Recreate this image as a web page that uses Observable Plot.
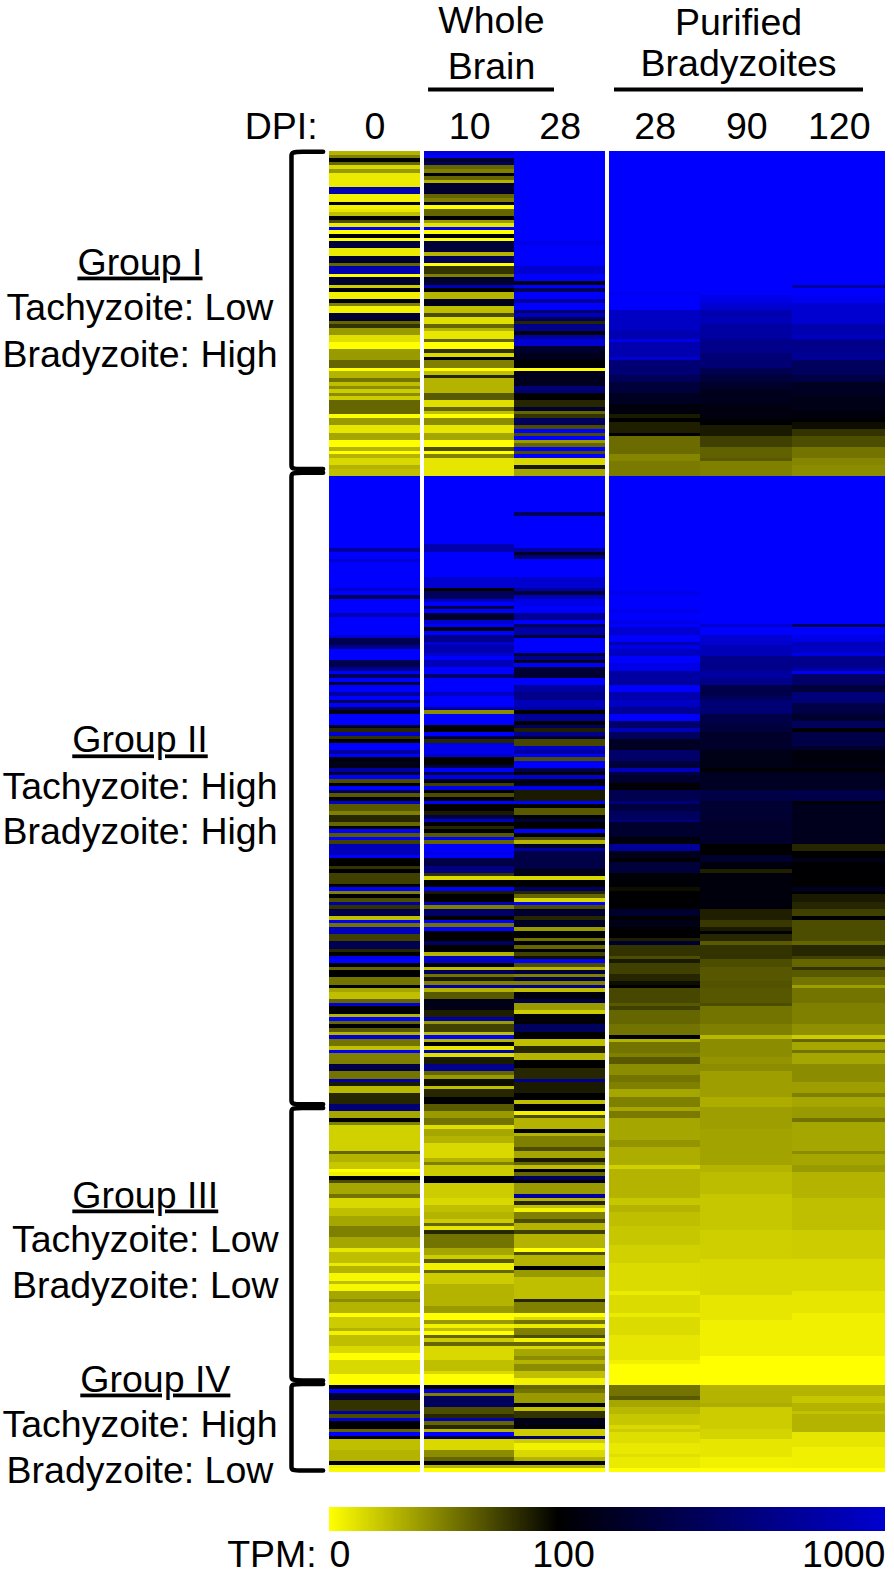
<!DOCTYPE html>
<html><head><meta charset="utf-8">
<script src="https://cdn.jsdelivr.net/npm/d3@7"></script>
<script src="https://cdn.jsdelivr.net/npm/@observablehq/plot@0.6"></script>
<style>
html,body{margin:0;padding:0;background:#fff}
svg{display:block}
.underlined text{text-decoration:underline}
</style></head><body><div id="chart"></div>
<script>
// Expression runs per condition: row where the run starts, TPM, row, TPM, ...
const culture0 = [
0,30,1,50,2,100,3,60,4,15,5,40,6,8,10,850,12,5,14,100,15,5,16,10,17,25,18,100,19,70,20,8,21,1200,22,0,23,100,24,0,25,350,27,8,29,300,31,60,32,850,34,0,35,300,37,20,38,100,39,5,41,100,42,50,43,5,45,300,47,60,48,80,49,40,51,12,53,0,55,40,58,60,60,0,61,30,63,55,64,25,65,45,66,20,67,45,68,20,69,60,73,0,74,40,76,10,78,35,80,0,82,30,83,0,84,30,85,15,87,30,88,25,
90,1200,110,800,111,1200,113,1000,114,1200,121,1000,122,1200,123,500,124,1200,128,900,129,1200,134,1000,135,450,137,700,138,1200,141,450,143,700,144,1200,145,500,146,1200,147,350,148,1200,150,800,151,1200,152,500,153,1200,154,500,155,200,156,1200,159,250,160,85,161,1000,162,80,163,100,164,1200,166,800,167,1200,168,150,169,200,171,800,172,300,173,1200,174,70,175,100,176,1200,
177,500,178,65,179,100,180,1000,181,65,183,50,184,85,186,60,187,100,188,1200,189,65,190,1200,191,75,192,900,195,1200,196,100,198,80,199,100,200,75,203,100,204,1200,205,50,206,100,207,70,208,800,209,80,210,400,212,25,213,1200,214,55,215,900,217,75,219,450,221,85,222,100,223,1100,224,1200,225,100,226,60,227,100,229,55,231,100,232,35,233,25,235,60,236,1000,237,100,239,30,240,1200,241,60,242,100,243,65,244,30,245,1000,246,55,248,25,249,1200,250,50,253,400,255,55,257,800,258,90,259,28,261,85,264,600,
265,600,266,35,268,100,269,50,270,18,277,60,278,30,280,22,282,0,283,5,284,100,285,70,286,35,289,55,290,15,293,25,295,35,298,50,301,35,304,10,305,25,308,8,309,30,311,3,313,25,314,3,316,35,318,45,319,30,322,0,323,20,326,30,327,5,328,25,331,15,333,0,335,15,339,0,
342,100,343,1200,344,320,346,80,349,800,350,70,351,1000,352,100,354,60,355,1200,356,100,357,25,360,30,363,100,364,5,365,2];

const brain10 = [
0,1040,1,1200,2,300,3,500,4,60,5,50,6,100,7,60,8,30,9,300,12,60,13,50,14,300,15,0,16,60,18,100,19,40,20,10,21,1200,22,0,23,100,24,0,25,350,28,30,29,500,31,0,32,80,34,50,35,300,37,900,38,100,39,30,41,200,43,25,45,70,46,12,48,60,49,30,50,10,52,60,53,0,55,80,56,15,57,100,58,50,60,0,61,25,62,85,63,30,67,65,69,12,71,60,72,25,73,0,74,45,76,10,78,35,80,0,82,70,83,0,84,50,85,10,
90,1200,109,850,111,1200,118,1000,121,100,122,500,124,950,125,1200,126,400,127,1200,128,300,130,1000,131,1200,132,150,133,1200,134,700,136,1000,137,850,139,1000,140,1200,141,900,143,1200,145,600,146,1200,150,950,151,1200,154,800,155,45,156,1200,159,100,161,1200,162,400,163,85,164,1100,167,1000,168,100,170,400,171,1200,172,400,173,1100,174,200,175,75,176,1100,
177,100,178,70,179,100,180,1200,181,100,183,90,184,400,185,950,186,100,187,85,188,100,189,65,190,1200,191,60,192,1200,194,1100,195,1200,196,400,198,650,200,80,201,15,202,100,204,1200,205,90,206,100,208,900,209,50,210,550,212,100,213,1200,214,55,215,1200,216,100,219,500,220,100,222,30,223,950,225,100,226,25,227,500,228,55,229,90,230,50,231,800,232,30,233,65,235,200,238,88,240,800,241,40,242,75,244,25,245,1200,246,30,247,100,248,10,249,850,250,12,251,90,253,700,255,60,256,40,257,95,259,25,260,85,262,100,
264,65,266,40,268,55,270,12,271,35,273,30,275,15,279,30,280,50,281,20,284,100,286,20,290,15,292,25,294,30,296,20,297,60,298,10,299,85,300,55,304,35,306,20,307,65,308,5,310,60,311,20,314,30,320,40,322,0,324,40,325,5,326,25,327,0,328,60,329,20,330,60,331,15,335,25,338,15,339,0,
342,100,343,1000,344,50,345,500,348,70,350,85,351,900,352,60,353,85,354,30,355,1200,356,400,357,15,360,45,362,60,363,100,364,30,365,0];

const brain28 = [
0,1200,25,1100,26,1200,32,1000,34,1200,36,200,37,1200,38,500,39,1200,41,800,42,1200,44,600,45,900,46,500,47,85,48,700,50,150,51,800,52,1000,54,300,56,220,58,100,60,0,61,230,65,600,67,100,69,85,71,300,72,60,73,80,74,500,76,70,77,1200,78,70,79,1200,80,40,81,60,82,1200,83,70,84,1200,85,15,87,90,88,35,
90,1200,100,500,101,1200,110,800,111,250,112,600,113,1200,118,1000,121,800,122,350,123,900,124,1100,126,1200,128,750,130,1200,131,500,132,800,134,350,135,1200,139,350,140,700,141,250,142,1200,143,320,146,1200,148,800,150,700,152,900,154,800,155,100,156,750,158,120,159,500,160,88,161,700,162,350,163,72,165,950,166,800,167,1200,168,70,169,1200,171,450,172,100,173,1000,174,150,175,250,176,1100,
177,90,180,1200,181,100,182,65,184,100,185,350,186,100,188,1200,189,100,190,70,191,30,192,300,193,800,194,400,199,200,201,15,202,100,204,500,205,85,206,60,207,15,208,1200,209,70,210,300,212,85,213,250,215,40,216,100,218,55,219,100,220,60,221,100,222,75,223,95,224,1200,225,70,226,30,227,350,228,50,229,450,230,50,231,700,232,25,233,150,235,400,236,40,238,20,239,120,242,500,244,100,246,25,248,85,250,30,252,100,254,85,257,700,258,90,261,100,263,25,
264,100,266,5,267,70,268,30,271,100,272,30,273,50,276,70,277,35,279,90,280,60,281,25,282,100,283,60,284,500,285,100,286,40,289,800,290,30,291,85,292,25,293,5,294,50,296,70,297,30,299,75,300,30,304,0,305,70,306,30,309,100,310,40,312,25,318,85,319,50,322,0,323,15,324,55,325,8,326,50,328,70,329,5,330,60,331,15,332,35,334,45,335,30,336,45,338,25,340,5,
342,60,343,55,344,40,347,100,348,25,349,80,351,200,353,100,354,20,356,600,357,20,358,5,360,15,362,30,363,100,364,30,365,0];

const purified28 = [
0,1200,39,1150,40,1200,44,950,50,850,52,1100,53,850,57,1000,58,600,62,480,64,350,67,250,70,150,73,90,74,100,75,88,78,100,79,58,84,48,86,52,
90,1200,122,1120,123,1200,127,1120,128,1200,130,1120,131,1200,132,1000,134,1200,136,850,137,1100,138,950,140,1200,142,1100,144,800,147,750,148,1200,150,850,152,950,154,750,156,1200,158,550,160,900,161,500,163,250,166,550,169,350,171,900,172,400,173,300,175,120,
177,450,180,600,181,380,183,500,185,600,186,300,190,150,192,750,194,220,196,120,197,350,200,130,204,95,205,110,210,300,212,120,213,200,215,110,218,88,219,300,220,80,223,70,224,90,225,75,228,85,230,95,231,100,232,72,236,65,237,75,238,60,242,55,245,100,246,30,247,55,250,50,251,65,253,45,256,55,258,50,260,35,262,50,
265,35,266,52,268,35,274,42,276,32,281,18,282,30,290,22,292,30,294,25,298,22,303,18,308,14,316,8,317,14,322,8,323,14,328,10,335,5,336,0,
342,55,345,65,346,35,348,28,350,22,353,15,354,20,355,13,358,9,361,12,362,8,365,0];

const purified90 = [
0,1200,40,1100,42,1000,44,850,46,900,48,800,52,700,56,600,60,450,62,350,64,280,66,220,70,170,74,120,75,100,76,90,79,75,82,62,85,65,86,50,
90,1200,131,1000,132,1200,134,1000,137,900,140,700,144,800,146,700,148,420,151,500,152,600,156,400,159,350,161,280,166,200,171,120,172,250,
177,400,180,300,181,320,185,280,192,100,195,300,197,150,199,88,200,150,210,88,213,78,215,90,216,100,217,85,219,65,220,80,224,70,226,66,230,68,232,66,236,70,237,55,242,50,245,28,246,45,251,42,253,45,255,38,262,32,
265,38,271,36,281,30,283,26,289,22,299,19,307,15,317,10,324,6,334,0,
342,30,347,32,348,20,354,17,357,10,362,5,365,0];

const purified120 = [
0,1200,37,800,38,1200,40,1150,42,1000,48,850,51,950,52,700,56,750,58,500,62,400,64,250,68,200,72,150,74,110,75,95,77,80,79,70,82,55,85,48,87,45,
90,1200,131,500,132,1200,134,1100,136,900,137,950,139,1100,140,700,143,800,144,1150,145,550,148,350,150,620,153,400,156,300,158,500,160,110,161,400,165,300,166,150,170,190,171,120,172,250,
177,420,180,120,181,220,192,85,194,100,196,200,197,110,204,250,205,110,206,90,208,85,210,75,212,100,213,70,219,60,220,85,223,75,224,60,226,80,227,65,229,55,231,38,232,55,236,50,242,44,245,20,246,60,247,35,249,55,250,35,253,45,258,38,261,50,262,35,
265,40,268,55,269,35,277,45,278,35,281,40,283,30,290,25,299,20,307,15,316,10,322,6,334,0,
342,30,345,22,347,30,349,24,350,30,355,10,359,6,365,0];

const rowCount = 366;
const dpiLabels = ["0","10","28","28","90","120"];
const legendTicks = [0,100,1000];
const series = [culture0, brain10, brain28, purified28, purified90, purified120];

// layout only: the horizontal span of each condition, in column widths
const lanes = [[0,.997],[1.042,2.032],[2.032,3.026],[3.075,4.068],[4.068,5.082],[5.082,6.096]];

const runs = series.flatMap((flat,c)=>{
  const p = d3.pairs(d3.range(0,flat.length,2)).map(([a,b])=>[flat[a],flat[a+1],flat[b]]);
  p.push([flat[flat.length-2],flat[flat.length-1],rowCount]);
  return p.map(([r0,v,r1])=>({c,r0,r1,v}));
});

const legendX = d3.scaleLinear(legendTicks,[0,2.5,6.096]);
const legendStops = d3.range(556).map(i=>{
  const x1=i/556*6.096, x2=(i+1.5)/556*6.096;
  return {t:legendX.invert(x1),x1,x2:Math.min(x2,6.096)};
});

const headers = [
 {t:"Whole",x:1.776,y:-32.7},{t:"Brain",x:1.776,y:-20.2},
 {t:"Purified",x:4.485,y:-32.4},{t:"Bradyzoites",x:4.485,y:-20.8}];
const headerRules = [{x1:1.086,x2:2.467,y:-17.2},{x1:3.125,x2:5.855,y:-17.2}];
const dpi = dpiLabels.map((t,i)=>({t,x:(lanes[i][0]+lanes[i][1])/2,y:-3.6}));

const groupTitles = [
 {t:"Group I",x:-2.078,y:34.1},{t:"Group II",x:-2.078,y:166.5},
 {t:"Group III",x:-2.02,y:292.6},{t:"Group IV",x:-1.91,y:343.6}];
const groupLines = [
 {t:"Tachyzoite: Low",x:-2.078,y:46.8},{t:"Bradyzoite: High",x:-2.078,y:59.6},
 {t:"Tachyzoite: High",x:-2.078,y:179.3},{t:"Bradyzoite: High",x:-2.078,y:192},
 {t:"Tachyzoite: Low",x:-2.02,y:305},{t:"Bradyzoite: Low",x:-2.02,y:317.8},
 {t:"Tachyzoite: High",x:-2.078,y:356.1},{t:"Bradyzoite: Low",x:-2.078,y:368.8}];

const bracketSpans = [[.1,88],[89,264],[265,340.5],[341.5,365.5]];
const bracketPoints = bracketSpans.flatMap(([a,b],g)=>{
  const v=-.417, h=-.07, k=1.1;
  const top = g===0, bot = g===3;
  return [[h,a],[-.2,a],[-.29,a],[v,a],[v,a+k],[v,a+2*k],[v,a+3*k],[v,b-3*k],[v,b-2*k],[v,b-k],[v,b],[-.29,b],[-.2,b],[h,b]].map(([x,y])=>({x,y,g}));
});

const font = "Liberation Sans, Arial, sans-serif";
const txt = {fontSize:37.5,fontFamily:font,fill:"#000",lineAnchor:"bottom"};

const plot = Plot.plot({
  width:894,height:1577,margin:0,
  style:{background:"#fff"},
  x:{axis:null,domain:[-3.6075,6.195],range:[0,894]},
  y:{axis:null,domain:[-41.84,395.12],range:[0,1577]},
  color:{type:"linear",domain:[0,100,1200],range:["#ffff00","#000000","#0000ff"],interpolate:"rgb",clamp:true},
  marks:[
    Plot.rect(runs,{x1:d=>lanes[d.c][0],x2:d=>lanes[d.c][1],y1:"r0",y2:"r1",fill:"v",shapeRendering:"crispEdges"}),
    Plot.rect(legendStops,{x1:"x1",x2:"x2",y1:()=>375.8,y2:()=>382.4,fill:"t",shapeRendering:"crispEdges"}),
    Plot.line(bracketPoints,{x:"x",y:"y",z:"g",stroke:"#000",strokeWidth:4.5,curve:"basis",strokeLinejoin:"round"}),
    Plot.ruleY(headerRules,{x1:"x1",x2:"x2",y:"y",stroke:"#000",strokeWidth:4}),
    Plot.text(headers,{...txt,x:"x",y:"y",text:"t"}),
    Plot.text(dpi,{...txt,x:"x",y:"y",text:"t"}),
    Plot.text(["DPI:"],{...txt,x:()=>-.13,y:()=>-3.6,textAnchor:"end"}),
    Plot.text(groupTitles,{...txt,x:"x",y:"y",text:"t",className:"underlined"}),
    Plot.text(groupLines,{...txt,x:"x",y:"y",text:"t"}),
    Plot.text(["TPM:"],{...txt,x:()=>-.14,y:()=>392.1,textAnchor:"end"}),
    Plot.text([String(legendTicks[0])],{...txt,x:()=>0,y:()=>392.1,textAnchor:"start"}),
    Plot.text([String(legendTicks[1])],{...txt,x:()=>2.566,y:()=>392.1}),
    Plot.text([String(legendTicks[2])],{...txt,x:()=>6.096,y:()=>392.1,textAnchor:"end"})
  ]
});
document.getElementById("chart").append(plot);
</script></body></html>
